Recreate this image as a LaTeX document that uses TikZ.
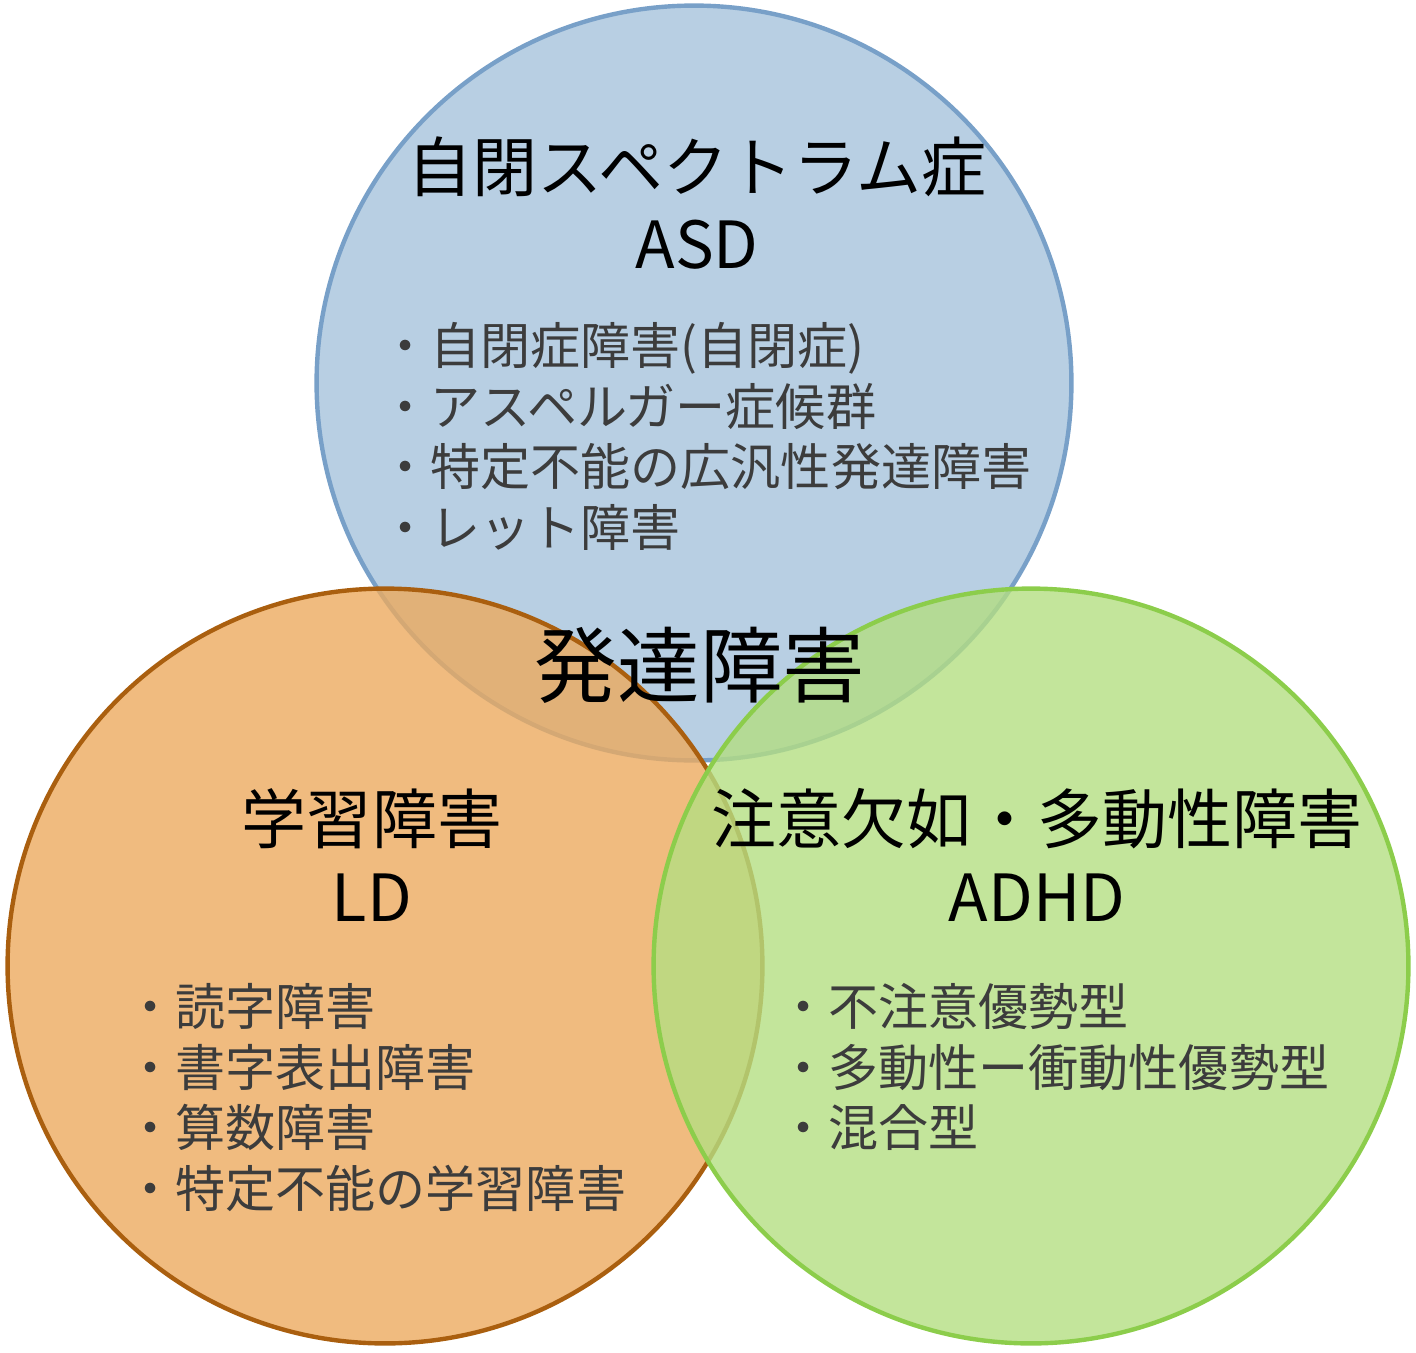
\documentclass[tikz,border=0pt]{standalone}
\usepackage{fontspec}
\setmainfont{Noto Sans CJK JP}
\definecolor{asdfill}{RGB}{166,195,220}
\definecolor{asdline}{RGB}{120,160,200}
\definecolor{ldfill}{RGB}{236,170,95}
\definecolor{ldline}{RGB}{170,95,15}
\definecolor{adfill}{RGB}{180,222,130}
\definecolor{adline}{RGB}{140,205,75}
\definecolor{itemtext}{RGB}{60,60,60}
\tikzset{
  group/.style={circle,line width=2.5pt,fill opacity=0.8,minimum size=15.1cm,inner sep=0pt},
  heading/.style={align=center,font=\fontsize{37}{44}\selectfont},
  items/.style={align=left,anchor=north west,text=itemtext,inner sep=0pt,
    font=\fontsize{28.5}{34.5}\selectfont},
}
\begin{document}
\begin{tikzpicture}[x=0.02cm,y=-0.02cm]
  \useasboundingbox (0,0) rectangle (1416,1352);
  % circles
  \node[group,draw=asdline,fill=asdfill] (asd) at (694,383) {};
  \node[group,draw=ldline,fill=ldfill] (ld) at (385,966) {};
  \node[group,draw=adline,fill=adfill] (adhd) at (1031,966) {};
  % headings
  \node[heading] (asdT) at (697,203) {自閉スペクトラム症\\ASD};
  \node[heading] (ldT) at (372,855) {学習障害\\LD};
  \node[heading] (adhdT) at (1037,855) {注意欠如・多動性障害\\ADHD};
  \node[font=\fontsize{47}{52}\selectfont] (dd) at (700,665) {発達障害};
  % items
  \node[items] (asdL) at (380,322) {・自閉症障害(自閉症)\\・アスペルガー症候群\\・特定不能の広汎性発達障害\\・レット障害};
  \node[items] (ldL) at (125,983) {・読字障害\\・書字表出障害\\・算数障害\\・特定不能の学習障害};
  \node[items] (adhdL) at (778,983) {・不注意優勢型\\・多動性ー衝動性優勢型\\・混合型};
\end{tikzpicture}
\end{document}
